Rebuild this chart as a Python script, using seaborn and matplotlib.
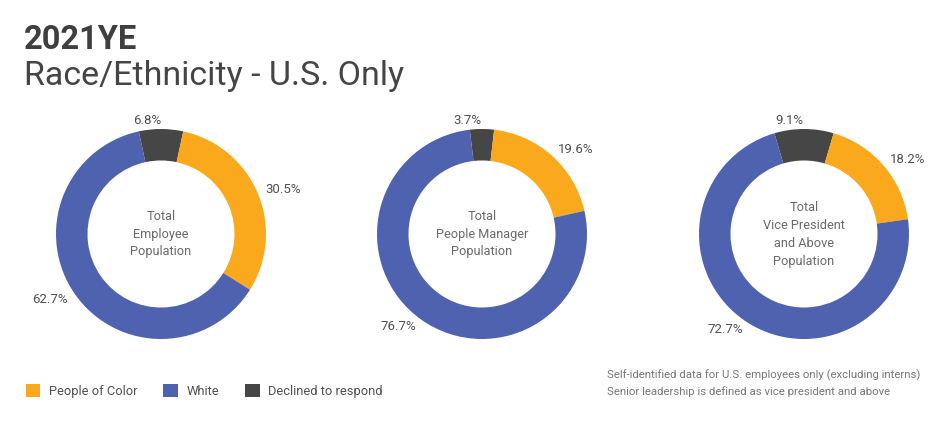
import matplotlib
matplotlib.use("Agg")
import matplotlib.pyplot as plt
import seaborn as sns
from matplotlib.patches import Patch

sns.set_theme(style="white")
plt.rcParams['font.family'] = ['Roboto', 'DejaVu Sans']

# ---- data ----
categories = ["People of Color", "White", "Declined to respond"]
group_labels = ["Total\nEmployee\nPopulation",
                "Total\nPeople Manager\nPopulation",
                "Total\nVice President\nand Above\nPopulation"]
people_of_color = [30.5, 19.6, 18.2]
white = [62.7, 76.7, 72.7]
declined = [6.8, 3.7, 9.1]

colors = {"People of Color": "#F9A91B", "White": "#4F62AF", "Declined to respond": "#464646"}
text_col = "#505050"

W, H = 951, 423
fig = plt.figure(figsize=(W / 100, H / 100), dpi=100)
fig.patch.set_facecolor("white")

centers = [(161, 234), (482, 234), (804, 234)]
R = 105
L = 1.4
S = 2 * L * R

for i, (cx, cy) in enumerate(centers):
    ax = fig.add_axes([(cx - S / 2) / W, (H - cy - S / 2) / H, S / W, S / H])
    vals = [declined[i], people_of_color[i], white[i]]
    cols = [colors["Declined to respond"], colors["People of Color"], colors["White"]]
    labs = [f"{v:.1f}%" for v in vals]
    start = 90 + declined[i] / 100 * 360 / 2
    wedges, texts = ax.pie(vals, colors=cols, labels=labs, startangle=start,
                           counterclock=False, labeldistance=1.08,
                           wedgeprops=dict(width=0.3, edgecolor="none"),
                           textprops=dict(fontsize=9.5, color=text_col))
    ax.text(0, 0, group_labels[i], ha="center", va="center", fontsize=9.2,
            color="#6a6a6a", linespacing=1.5)
    ax.set_xlim(-L, L)
    ax.set_ylim(-L, L)
    ax.set_aspect("equal")
    ax.axis("off")

fig.text(24 / W, 1 - 40 / H, "2021YE", fontsize=23.5, fontweight="bold",
         color="#3f3f3f", va="center", ha="left")
fig.text(24 / W, 1 - 76 / H, "Race/Ethnicity - U.S. Only", fontsize=24.5,
         color="#454545", va="center", ha="left")

handles = [Patch(facecolor=colors[c], edgecolor="none", label=c) for c in categories]
fig.legend(handles=handles, loc="center left", bbox_to_anchor=(14 / W, 1 - 391 / H),
           ncol=3, frameon=False, fontsize=9.3, handlelength=1.15, handleheight=1.15,
           columnspacing=2.0, handletextpad=0.65, labelcolor=text_col)

fig.text(607 / W, 1 - 375 / H, "Self-identified data for U.S. employees only (excluding interns)",
         fontsize=8.2, color="#777777", va="center", ha="left")
fig.text(607 / W, 1 - 392 / H, "Senior leadership is defined as vice president and above",
         fontsize=8.2, color="#777777", va="center", ha="left")

fig.savefig("out.png", dpi=100, facecolor="white")
